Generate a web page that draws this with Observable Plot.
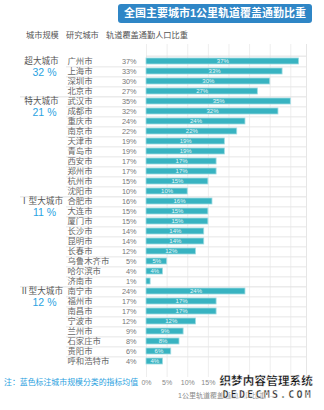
<!DOCTYPE html>
<html>
<head>
<meta charset="utf-8">
<script src="https://cdn.jsdelivr.net/npm/d3@7"></script>
<script src="https://cdn.jsdelivr.net/npm/@observablehq/plot@0.6"></script>
<style>
  html, body { margin: 0; padding: 0; background: #fff; }
  body { width: 324px; height: 410px; overflow: hidden; font-family: "Liberation Sans", "Noto Sans CJK SC", sans-serif; }
  #wrap { position: relative; width: 324px; height: 410px; }
  #chart { position: absolute; left: 0; top: 0; }
  .ov { position: absolute; white-space: nowrap; }
  #title { left: 118px; top: 4px; width: 194px; height: 19px; background: #2f86c6; border-radius: 3px;
           color: #fff; font-weight: bold; font-size: 11px; line-height: 19px; text-align: center; }
  .hdr { top: 30px; font-size: 8.2px; color: #555; line-height: 12px; }
  #note { left: 4px; top: 377px; font-size: 7.9px; color: #2a9fe0; line-height: 12px; }
  .wm { right: 11px; font-weight: 900; color: #111; -webkit-text-stroke: 0.4px #fff;
        text-shadow: 0 0 1px #fff, 0 0 2px #fff, 0 0 3px #fff; }
  #wm1 { top: 374px; font-size: 11.5px; letter-spacing: 0.2px; line-height: 14px; }
  #wm2 { top: 389px; font-size: 10px; letter-spacing: 2.2px; line-height: 12px; font-family: "DejaVu Sans Mono", monospace; }
</style>
</head>
<body>
<div id="wrap">
  <div id="chart"></div>
  <div class="ov" id="title">全国主要城市1公里轨道覆盖通勤比重</div>
  <div class="ov hdr" style="left:26px">城市规模</div>
  <div class="ov hdr" style="left:66px">研究城市</div>
  <div class="ov hdr" style="left:106px">轨道覆盖通勤人口比重</div>
  <div class="ov" id="note">注：蓝色标注城市规模分类的指标均值</div>
  <div class="ov wm" id="wm1">织梦内容管理系统</div>
  <div class="ov wm" id="wm2">DEDECMS.COM</div>
</div>
<script>
const cities = ["广州市","上海市","深圳市","北京市",
  "武汉市","成都市","重庆市","南京市","天津市","青岛市","西安市","郑州市","杭州市","沈阳市",
  "合肥市","大连市","厦门市","长沙市","昆明市","长春市","乌鲁木齐市","哈尔滨市","济南市",
  "南宁市","福州市","南昌市","宁波市","兰州市","石家庄市","贵阳市","呼和浩特市"];
const shares = [37,33,30,27,
  35,32,24,22,19,19,17,17,15,10,
  16,15,15,14,14,12,5,4,1,
  24,17,17,12,9,8,6,4];
const groupNames = ["超大城市","特大城市","Ⅰ型大城市","Ⅱ型大城市"];
const groupMeans = [32,21,11,12];
const groupSizes = [4,10,9,8];
const gridTicks = [0,5,10,15,20,25,30,35];
const tickLabels = [0,5,10,15];

const rows = cities.map((c, i) => ({city: c, v: shares[i]}));
const groups = [];
let start = 0;
groupNames.forEach((g, k) => {
  groups.push({name: g, mean: groupMeans[k], first: cities[start], second: cities[start + 1],
               last: cities[start + groupSizes[k] - 1]});
  start += groupSizes[k];
});
const groupLast = new Set(groups.map(g => g.last));
const innerLines = cities.slice(0, -1).filter(c => !groupLast.has(c));
const groupLines = groups.slice(0, -1).map(g => g.last);

const step = (377 - 44) / cities.length;
const font = "'Liberation Sans', 'Noto Sans CJK SC', sans-serif";

const chart = Plot.plot({
  width: 324,
  height: 410,
  marginTop: 44,
  marginBottom: 33,
  marginLeft: 146,
  marginRight: 18,
  style: {fontFamily: font, fontSize: "7px", color: "#888", background: "transparent"},
  x: {domain: [0, 38.8], ticks: tickLabels, tickFormat: d => d + "%", tickSize: 0, tickPadding: 3,
      label: "1公里轨道覆盖通勤人口比重", labelAnchor: "center", labelOffset: 20},
  y: {domain: cities, axis: null, paddingInner: 0.44, paddingOuter: 0.22},
  marks: [
    Plot.ruleX(gridTicks, {stroke: "#eeeeee"}),
    Plot.ruleY(innerLines, {y: d => d, dy: step / 2, stroke: "#e6e6e6", insetLeft: -80}),
    Plot.ruleY(groupLines, {y: d => d, dy: step / 2, stroke: "#e0e0e0", insetLeft: -126}),
    Plot.ruleY([cities[0]], {y: d => d, dy: -step / 2, stroke: "#e0e0e0"}),
    Plot.ruleX([38.8], {stroke: "#e6e6e6"}),
    Plot.barX(rows, {y: "city", x: "v", fill: "#38b3c1", stroke: "#9fdbe2", strokeWidth: 0.8}),
    Plot.text(rows.filter(d => d.v >= 4), {y: "city", x: d => d.v / 2, text: d => d.v + "%",
      fill: "#e8f8fa", fontSize: 6}),
    Plot.text(rows, {y: "city", text: "city", frameAnchor: "left", dx: -79, textAnchor: "start",
      fill: "#666", fontSize: 8.4}),
    Plot.text(rows, {y: "city", text: d => d.v + "%", frameAnchor: "left", dx: -10, textAnchor: "end",
      fill: "#777", fontSize: 7.3}),
    Plot.text(groups, {y: "first", text: "name", frameAnchor: "left", dx: -105, textAnchor: "middle",
      fill: "#555", fontSize: 8.6}),
    Plot.text(groups, {y: "second", text: d => d.mean + " %", frameAnchor: "left", dx: -102,
      textAnchor: "middle", fill: "#2aa3e2", fontSize: 10.5, dy: 1})
  ]
});
document.getElementById("chart").appendChild(chart);
</script>
</body>
</html>
